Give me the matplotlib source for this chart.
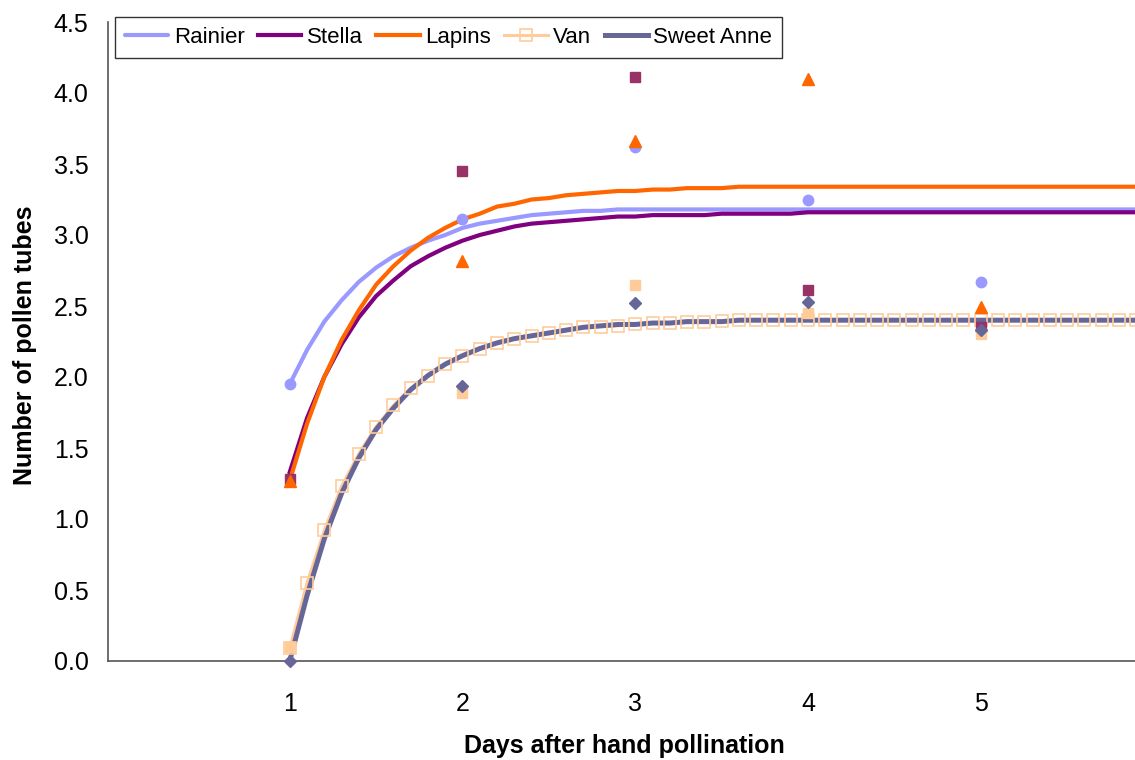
import matplotlib
matplotlib.use("Agg")
import matplotlib.pyplot as plt
import numpy as np

plt.rcParams['font.family'] = ['Liberation Sans', 'DejaVu Sans']

# Observed data (days 1-5)
days = [1, 2, 3, 4, 5]
rainier_obs = [1.95, 3.11, 3.62, 3.25, 2.67]
stella_obs = [1.28, 3.45, 4.11, 2.61, 2.35]
lapins_obs = [1.27, 2.82, 3.66, 4.10, 2.49]
van_obs = [0.10, 1.89, 2.65, 2.45, 2.30]
sweet_obs = [0.00, 1.94, 2.52, 2.53, 2.33]

# Fitted curves, read at 0.1-day steps from 1.0 to 5.9
curve_x = [round(1.0 + 0.1 * i, 1) for i in range(50)]
rainier_fit = [1.95, 2.19, 2.39, 2.54, 2.67, 2.77, 2.85, 2.91, 2.96, 3.00,
               3.05, 3.08, 3.10, 3.12, 3.14, 3.15, 3.16, 3.17, 3.17, 3.18,
               3.18, 3.18, 3.18, 3.18, 3.18, 3.18, 3.18, 3.18, 3.18, 3.18,
               3.18, 3.18, 3.18, 3.18, 3.18, 3.18, 3.18, 3.18, 3.18, 3.18,
               3.18, 3.18, 3.18, 3.18, 3.18, 3.18, 3.18, 3.18, 3.18, 3.18]
stella_fit = [1.33, 1.71, 2.00, 2.23, 2.42, 2.57, 2.68, 2.78, 2.85, 2.91,
              2.96, 3.00, 3.03, 3.06, 3.08, 3.09, 3.10, 3.11, 3.12, 3.13,
              3.13, 3.14, 3.14, 3.14, 3.14, 3.15, 3.15, 3.15, 3.15, 3.15,
              3.16, 3.16, 3.16, 3.16, 3.16, 3.16, 3.16, 3.16, 3.16, 3.16,
              3.16, 3.16, 3.16, 3.16, 3.16, 3.16, 3.16, 3.16, 3.16, 3.16]
lapins_fit = [1.27, 1.67, 2.00, 2.26, 2.47, 2.65, 2.78, 2.89, 2.98, 3.05,
              3.11, 3.15, 3.20, 3.22, 3.25, 3.26, 3.28, 3.29, 3.30, 3.31,
              3.31, 3.32, 3.32, 3.33, 3.33, 3.33, 3.34, 3.34, 3.34, 3.34,
              3.34, 3.34, 3.34, 3.34, 3.34, 3.34, 3.34, 3.34, 3.34, 3.34,
              3.34, 3.34, 3.34, 3.34, 3.34, 3.34, 3.34, 3.34, 3.34, 3.34]
van_fit = [0.09, 0.55, 0.92, 1.23, 1.46, 1.65, 1.80, 1.92, 2.01, 2.09,
           2.15, 2.20, 2.24, 2.27, 2.29, 2.31, 2.33, 2.35, 2.355, 2.36,
           2.37, 2.38, 2.38, 2.385, 2.39, 2.395, 2.40, 2.40, 2.40, 2.40,
           2.40, 2.40, 2.40, 2.40, 2.40, 2.40, 2.40, 2.40, 2.40, 2.40,
           2.40, 2.40, 2.40, 2.40, 2.40, 2.40, 2.40, 2.40, 2.40, 2.40]
sweet_fit = [0.00, 0.46, 0.86, 1.18, 1.43, 1.63, 1.78, 1.91, 2.01, 2.09,
             2.15, 2.20, 2.24, 2.27, 2.29, 2.31, 2.33, 2.35, 2.36, 2.37,
             2.37, 2.38, 2.38, 2.39, 2.39, 2.39, 2.40, 2.40, 2.40, 2.40,
             2.40, 2.40, 2.40, 2.40, 2.40, 2.40, 2.40, 2.40, 2.40, 2.40,
             2.40, 2.40, 2.40, 2.40, 2.40, 2.40, 2.40, 2.40, 2.40, 2.40]

yticks = [0.0, 0.5, 1.0, 1.5, 2.0, 2.5, 3.0, 3.5, 4.0, 4.5]

c_rainier = '#9999FF'
c_stella = '#800080'
c_stella_m = '#993366'
c_lapins = '#FF6600'
c_van = '#FFCC99'
c_sweet = '#666699'

fig = plt.figure(figsize=(11.35, 7.6), dpi=100)
ax = fig.add_axes([108/1135, 99/760, 1 - 108/1135, (661-22)/760])

l1, = ax.plot(curve_x, rainier_fit, color=c_rainier, lw=3.0, zorder=3, label='Rainier', solid_capstyle='round')
l2, = ax.plot(curve_x, stella_fit, color=c_stella, lw=3.0, zorder=3, label='Stella')
l3, = ax.plot(curve_x, lapins_fit, color=c_lapins, lw=3.0, zorder=3.1, label='Lapins')
ax.plot(curve_x, van_fit, color=c_van, lw=2.2, zorder=3)
l5, = ax.plot(curve_x, sweet_fit, color=c_sweet, lw=3.6, zorder=3.2, label='Sweet Anne')
ax.plot(curve_x, van_fit, ls='none', marker='s', ms=8.5, mfc='none', mec=c_van, mew=1.2, zorder=3.3)
l4, = ax.plot([], [], color=c_van, lw=2.2, marker='s', ms=8.5, mfc='none', mec=c_van, mew=1.2, label='Van')

kw = dict(ls='none', zorder=5, clip_on=False)
ax.plot(days, rainier_obs, marker='o', ms=7.5, color=c_rainier, mec=c_rainier, **kw)
ax.plot(days, stella_obs, marker='s', ms=7, color=c_stella_m, mec=c_stella_m, **kw)
ax.plot(days, lapins_obs, marker='^', ms=8, color=c_lapins, mec=c_lapins, **kw)
ax.plot(days, van_obs, marker='s', ms=7, color=c_van, mec=c_van, **kw)
ax.plot(days, sweet_obs, marker='D', ms=6.5, color=c_sweet, mec=c_sweet, **kw)

ax.set_xlim(-0.052, 5.893)
ax.set_ylim(0, 4.5)
ax.set_xticks(days)
ax.set_xticklabels([str(d) for d in days])
ax.set_yticks(yticks)
ax.set_yticklabels([f'{v:.1f}' for v in yticks])
ax.tick_params(axis='both', length=0, labelsize=18)
ax.tick_params(axis='x', pad=22)
ax.tick_params(axis='y', pad=14)
for s in ['top', 'right']:
    ax.spines[s].set_visible(False)
for s in ['left', 'bottom']:
    ax.spines[s].set_color('#555555')
    ax.spines[s].set_linewidth(1.2)

fig.text(624/1135, 1 - 746/760, 'Days after hand pollination', ha='center', va='center',
         fontsize=18, fontweight='bold')
fig.text(25/1135, 1 - 345/760, 'Number of pollen tubes', ha='center', va='center',
         fontsize=18, fontweight='bold', rotation=90)

leg = ax.legend(handles=[l1, l2, l3, l4, l5], loc='upper left', ncol=5,
                bbox_to_anchor=(115/1135, 1 - 17/760), bbox_transform=fig.transFigure,
                borderaxespad=0, fontsize=16, frameon=True, fancybox=False,
                edgecolor='black', handlelength=1.95, handletextpad=0.25,
                columnspacing=0.6, borderpad=0.45)
leg.get_frame().set_linewidth(1.0)

fig.savefig('out.png', dpi=100)
